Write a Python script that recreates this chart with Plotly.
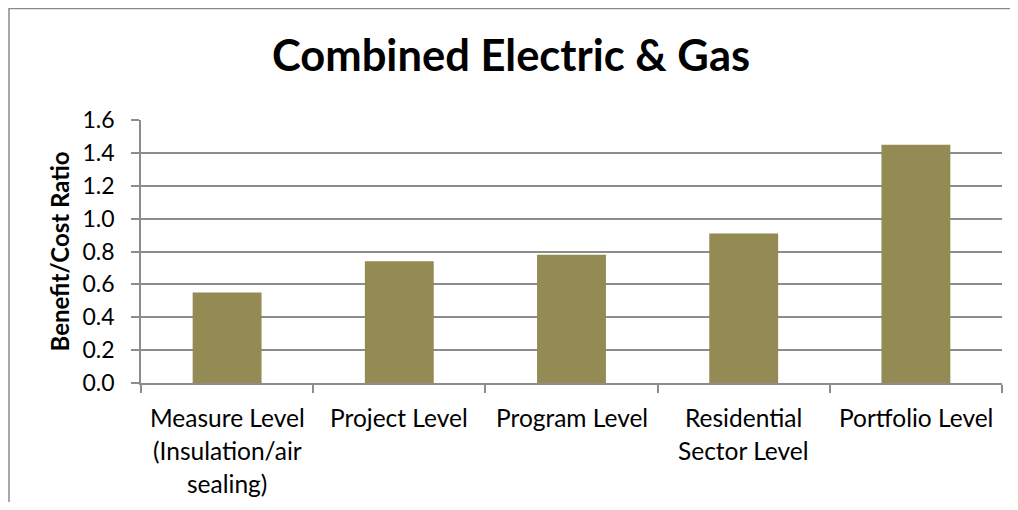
import plotly.graph_objects as go

categories = ["Measure Level", "Project Level", "Program Level", "Residential Sector Level", "Portfolio Level"]
label_lines = [
    ["Measure Level", "(Insulation/air", "sealing)"],
    ["Project Level"],
    ["Program Level"],
    ["Residential", "Sector Level"],
    ["Portfolio Level"],
]
values = [0.55, 0.74, 0.78, 0.91, 1.45]
y_ticks = [0.0, 0.2, 0.4, 0.6, 0.8, 1.0, 1.2, 1.4, 1.6]

FONT = "Lato"
GRID = "#8c8c8c"

# The page body adds an 8px margin, so the figure is sized to fit inside the window.
W, H = 1002, 494
L, R, T, B = 133, 8, 112, 119
PW, PH = W - L - R, H - T - B

fig = go.Figure(go.Bar(x=categories, y=values, marker=dict(color="#948A54", line=dict(width=0))))

annotations = []
for cat, lines in zip(categories, label_lines):
    for i, line in enumerate(lines):
        annotations.append(dict(
            x=cat, y=0, xref="x", yref="y", text=line, showarrow=False,
            xanchor="center", yanchor="middle", yshift=-34 - 33 * i,
            font=dict(family=FONT, size=24.5, color="#000000"),
        ))
annotations.append(dict(
    x=0, y=0.5, xref="paper", yref="paper", xshift=-82, text="<b>Benefit/Cost Ratio</b>",
    textangle=-90, showarrow=False, xanchor="center", yanchor="middle",
    font=dict(family=FONT, size=24, color="#000000"),
))

fig.update_layout(
    width=W, height=H,
    margin=dict(l=L, r=R, t=T, b=B),
    paper_bgcolor="white", plot_bgcolor="white",
    bargap=0.6,
    showlegend=False,
    title=dict(text="<b>Combined Electric &amp; Gas</b>", x=(511 - 8) / W, xanchor="center",
               y=1 - (56 - 8) / H, yanchor="middle", yref="container",
               font=dict(family=FONT, size=43.5, color="#000000")),
    xaxis=dict(showticklabels=False, tickson="boundaries", ticks="outside", ticklen=8,
               tickcolor=GRID, tickwidth=1.5, showline=True, linecolor=GRID, linewidth=1.5,
               showgrid=False),
    yaxis=dict(range=[0, 1.6], tickvals=y_ticks, ticktext=[f"{v:.1f}" for v in y_ticks],
               ticks="outside", ticklen=8, tickcolor=GRID, tickwidth=1.5,
               showline=True, linecolor=GRID, linewidth=1.5,
               showgrid=True, gridcolor=GRID, gridwidth=1.5, zeroline=False,
               ticklabelstandoff=12,
               tickfont=dict(family=FONT, size=23, color="#000000")),
    annotations=annotations,
    shapes=[
        dict(type="line", xref="paper", yref="paper", x0=(1 - L) / PW, x1=(1 - L) / PW,
             y0=(H - B + 1) / PH, y1=-(B + 5) / PH, line=dict(color="#8a8a8a", width=1.5)),
        dict(type="line", xref="paper", yref="paper", x0=(1 - L) / PW, x1=(W + 5 - L) / PW,
             y0=(H - B - 0.5) / PH, y1=(H - B - 0.5) / PH, line=dict(color="#8a8a8a", width=1.5)),
    ],
)

fig.write_html("out.html")
